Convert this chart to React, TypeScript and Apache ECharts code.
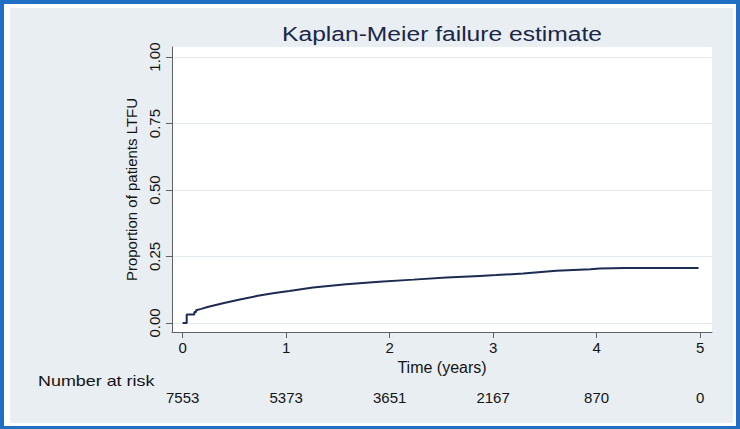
import React, { useEffect, useRef } from 'react';
import * as echarts from 'echarts';

// Kaplan-Meier failure estimate (time in years, cumulative proportion LTFU)
const timeYears = [0, 0.039, 0.039, 0.113, 0.113, 0.13, 0.13, 0.18, 0.24, 0.3, 0.4, 0.565, 0.726, 0.888, 1.03, 1.26, 1.58, 1.9, 2.23, 2.55, 2.87, 3.03, 3.29, 3.61, 3.94, 4.03, 4.27, 4.985];
const failure = [0, 0, 0.032, 0.032, 0.041, 0.041, 0.048, 0.053, 0.06, 0.066, 0.075, 0.089, 0.102, 0.113, 0.12, 0.133, 0.146, 0.155, 0.163, 0.171, 0.177, 0.18, 0.186, 0.196, 0.202, 0.205, 0.207, 0.207];

const xTicks = [0, 1, 2, 3, 4, 5];
const yTicks = [0, 0.25, 0.5, 0.75, 1];
const riskTimes = [0, 1, 2, 3, 4, 5];
const numberAtRisk = [7553, 5373, 3651, 2167, 870, 0];

const FONT = '"Liberation Sans", Arial, Helvetica, sans-serif';
const AXIS_COLOR = '#5e6266';
const TEXT_COLOR = '#141414';

export default function App() {
  const ref = useRef<HTMLDivElement>(null);

  useEffect(() => {
    if (!ref.current) return;
    const chart = echarts.init(ref.current, undefined, { renderer: 'svg' });
    const xMin = -0.103;
    const xMax = 5.115;
    chart.setOption({
      animation: false,
      backgroundColor: '#1f6fc4',
      textStyle: { fontFamily: FONT },
      graphic: [
        { type: 'rect', z: -10, shape: { x: 4, y: 4, width: 732, height: 422 }, style: { fill: '#ffffff' } },
        { type: 'rect', z: -9, shape: { x: 10, y: 8, width: 723, height: 415 }, style: { fill: '#e8eef1' } },
        {
          type: 'text', z: 100, x: 442, y: 34, scaleX: 1.23,
          style: { text: 'Kaplan-Meier failure estimate', x: 0, y: 0, align: 'center', verticalAlign: 'middle', fontSize: 20, fontFamily: FONT, fill: '#1b2648' },
        },
        {
          type: 'text', z: 100, x: 38, y: 381, scaleX: 1.28,
          style: { text: 'Number at risk', x: 0, y: 0, align: 'left', verticalAlign: 'middle', fontSize: 14, fontFamily: FONT, fill: TEXT_COLOR },
        },
      ],
      grid: {
        left: 172, right: 28, top: 47, bottom: 97,
        show: true, backgroundColor: '#ffffff', borderWidth: 0,
      },
      xAxis: [
        {
          type: 'value', min: xMin, max: xMax, position: 'bottom',
          axisLine: { show: true, onZero: false, lineStyle: { color: AXIS_COLOR, width: 1 } },
          axisTick: { show: true, length: 6, customValues: xTicks, lineStyle: { color: AXIS_COLOR } },
          axisLabel: { customValues: xTicks, margin: 8, fontSize: 15, color: TEXT_COLOR, fontFamily: FONT },
          splitLine: { show: false },
          name: 'Time (years)', nameLocation: 'middle', nameGap: 21,
          nameTextStyle: { fontSize: 16, color: TEXT_COLOR, fontFamily: FONT },
        },
        {
          type: 'value', min: xMin, max: xMax, position: 'bottom', gridIndex: 0,
          axisLine: { show: false }, axisTick: { show: false }, splitLine: { show: false },
          axisLabel: {
            customValues: riskTimes, margin: 58, fontSize: 15, color: TEXT_COLOR, fontFamily: FONT,
            formatter: (v: number) => String(numberAtRisk[riskTimes.indexOf(v)]),
          },
        },
      ],
      yAxis: {
        type: 'value', min: -0.034, max: 1.038,
        axisLine: { show: true, onZero: false, lineStyle: { color: AXIS_COLOR, width: 1 } },
        axisTick: { show: true, length: 6, customValues: yTicks, lineStyle: { color: AXIS_COLOR } },
        axisLabel: {
          customValues: yTicks, rotate: 90, margin: 10, fontSize: 15, color: TEXT_COLOR, fontFamily: FONT,
          formatter: (v: number) => v.toFixed(2),
        },
        splitLine: { show: true, lineStyle: { color: '#e3eaee', width: 1 } },
        name: 'Proportion of patients LTFU', nameLocation: 'middle', nameGap: 32,
        nameTextStyle: { fontSize: 15, color: TEXT_COLOR, fontFamily: FONT },
      },
      series: [
        {
          type: 'line', xAxisIndex: 0, yAxisIndex: 0,
          data: timeYears.map((t, i) => [t, failure[i]]),
          showSymbol: false, symbol: 'none',
          lineStyle: { color: '#1e2b50', width: 2 },
        },
      ],
    });
    return () => chart.dispose();
  }, []);

  return (
    <div
      ref={ref}
      style={{ position: 'fixed', left: 0, top: 0, width: 740, height: 429 }}
    />
  );
}
